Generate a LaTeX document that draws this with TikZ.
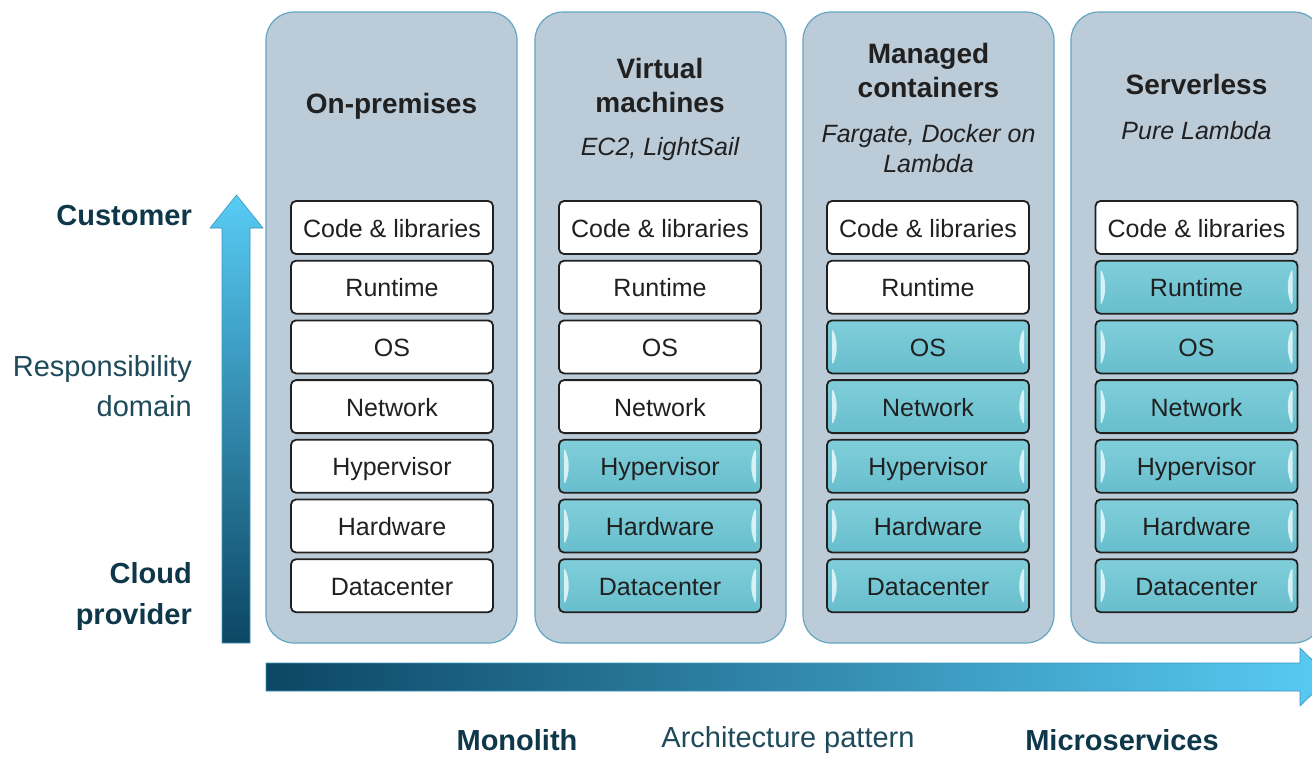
\documentclass[tikz,border=0pt]{standalone}
\usepackage{fontspec}
\setmainfont{Liberation Sans}
\usetikzlibrary{calc}
\definecolor{panelfill}{RGB}{188,203,216}
\definecolor{paneledge}{RGB}{100,165,195}
\definecolor{cloudfill}{RGB}{104,190,205}
\definecolor{cloudtop}{RGB}{128,206,218}
\definecolor{glint}{RGB}{232,250,252}
\definecolor{inkdark}{RGB}{32,32,32}
\definecolor{tealdark}{RGB}{14,56,74}
\definecolor{tealtext}{RGB}{30,74,90}
\definecolor{arrowdark}{RGB}{12,70,100}
\definecolor{arrowlight}{RGB}{88,204,245}
\tikzset{
	panel/.style={draw=paneledge,line width=1.2pt,fill=panelfill,rounded corners=28pt,
		minimum width=251pt,minimum height=631pt},
	layer/.style={draw=inkdark,line width=1.8pt,rounded corners=5pt,fill=white,
		minimum width=202pt,minimum height=53pt,inner sep=0pt,text=inkdark,
		text height=19pt,text depth=0pt,font=\fontsize{25}{30}\selectfont},
	cloudlayer/.style={layer,top color=cloudtop,bottom color=cloudfill,
		path picture={
			\fill[glint,opacity=0.85]
				([xshift=5pt,yshift=-7pt]path picture bounding box.north west) to[bend left=22]
				([xshift=5pt,yshift=7pt]path picture bounding box.south west) -- cycle;
			\fill[glint,opacity=0.85]
				([xshift=-5pt,yshift=-7pt]path picture bounding box.north east) to[bend right=22]
				([xshift=-5pt,yshift=7pt]path picture bounding box.south east) -- cycle;
		}},
	title/.style={font=\fontsize{28}{34}\selectfont\bfseries,align=center,text=inkdark,inner sep=0pt},
	sub/.style={font=\fontsize{25}{30}\selectfont\itshape,align=center,text=inkdark,inner sep=0pt},
	axisbold/.style={font=\fontsize{29}{41}\selectfont\bfseries,text=tealdark,inner sep=0pt},
	axislabel/.style={font=\fontsize{29}{40}\selectfont,text=tealtext,inner sep=0pt}
}
\begin{document}
\begin{tikzpicture}[x=1pt,y=-1pt]
	\useasboundingbox (0,0) rectangle (1312,756);
	% panels
	\foreach \px/\pname in {391.5/onprem,660.5/vm,928.5/mc,1196.5/sls}
		\node[panel] (\pname) at (\px,327.5) {};
	% layers, cloud-managed from row \first down
	\foreach \px/\first [count=\c] in {392/7,660/4,928/2,1196.5/1}{
		\foreach \lbl [count=\r from 0] in {Code \& libraries,Runtime,OS,Network,Hypervisor,Hardware,Datacenter}{
			\ifnum\r<\first
				\node[layer] (l\c-\r) at (\px,227.5+59.7*\r) {\lbl};
			\else
				\node[cloudlayer] (l\c-\r) at (\px,227.5+59.7*\r) {\lbl};
			\fi
		}
	}
	% titles
	\node[title] (t1) at (391.5,106) {On-premises};
	\node[title] (t2) at (660,85) {Virtual\\machines};
	\node[title] (t3) at (928.5,70) {Managed\\containers};
	\node[title] (t4) at (1196.5,84) {Serverless};
	\node[sub] (s2) at (660,149) {EC2, LightSail};
	\node[sub] (s3) at (928.5,149) {Fargate, Docker on\\Lambda};
	\node[sub] (s4) at (1196.5,131) {Pure Lambda};
	% responsibility axis
	\shade[top color=arrowlight,bottom color=arrowdark,draw=arrowlight!60!arrowdark,line width=0.6pt]
		(222,643) -- (222,228) -- (210,228) -- (236.5,195) -- (263,228) -- (250,228) -- (250,643) -- cycle;
	\node[axisbold,anchor=east] (cust) at (192,216) {Customer};
	\node[axislabel,anchor=east,align=right] (resp) at (192,386) {Responsibility\\domain};
	\node[axisbold,anchor=east,align=right] (cloud) at (192,596) {Cloud\\provider};
	% architecture axis
	\shade[left color=arrowdark,right color=arrowlight,draw=arrowlight!60!arrowdark,line width=0.6pt]
		(266,663) -- (1300,663) -- (1300,648) -- (1330,677) -- (1300,706) -- (1300,691) -- (266,691) -- cycle;
	\node[axisbold] (mono) at (517,740) {Monolith};
	\node[axislabel] (arch) at (788,740) {Architecture pattern};
	\node[axisbold] (micro) at (1122,740) {Microservices};
\end{tikzpicture}
\end{document}
